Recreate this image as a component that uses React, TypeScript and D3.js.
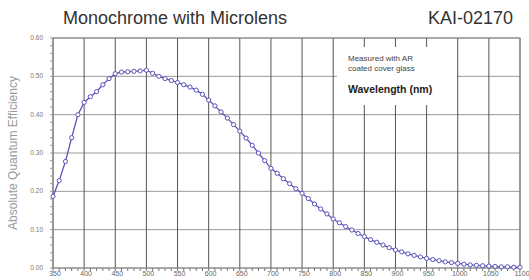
import * as d3 from 'd3'

// Quantum efficiency, one point every 10 nm
const wavelengths = d3.range(350, 1101, 10)
const efficiency = [
  0.187, 0.228, 0.278, 0.340, 0.400, 0.432, 0.447, 0.460, 0.478, 0.494,
  0.507, 0.511, 0.512, 0.513, 0.514, 0.516, 0.508, 0.500, 0.494, 0.489,
  0.484, 0.478, 0.472, 0.464, 0.453, 0.438, 0.423, 0.407, 0.391, 0.374,
  0.357, 0.339, 0.320, 0.300, 0.280, 0.260, 0.247, 0.233, 0.220, 0.207,
  0.195, 0.181, 0.167, 0.154, 0.141, 0.128, 0.118, 0.108, 0.099, 0.090,
  0.082, 0.074, 0.067, 0.060, 0.053, 0.047, 0.042, 0.037, 0.033, 0.029,
  0.025, 0.022, 0.019, 0.016, 0.014, 0.012, 0.010, 0.008, 0.007, 0.006,
  0.005, 0.004, 0.003, 0.003, 0.002, 0.002
]
const xTicks = d3.range(350, 1101, 50)
const yTicks = [0, 0.1, 0.2, 0.3, 0.4, 0.5, 0.6]
const noteLines = ['Measured with AR', 'coated cover glass']

const W = 529
const H = 280
const left = 53, right = 520, top = 38, bottom = 268

export default function App() {
  const x = d3.scaleLinear().domain([350, 1100]).range([left, right])
  const y = d3.scaleLinear().domain([0, 0.6]).range([bottom, top])
  const pts = wavelengths.map((w, i) => ({ w, v: efficiency[i] }))
  const line = d3.line<{ w: number; v: number }>().x(d => x(d.w)).y(d => y(d.v))
  const minorX = d3.range(350, 1101, 10)
  const minorY = d3.range(0, 0.601, 0.02)
  const font = 'Liberation Sans, Arial, sans-serif'

  return (
    <svg width={W} height={H} style={{ position: 'absolute', left: 0, top: 0 }} fontFamily={font}>
      <rect width={W} height={H} fill="#fff" />
      <text x={175} y={24} fontSize={18} textAnchor="middle" fill="#333">Monochrome with Microlens</text>
      <text x={513} y={24} fontSize={18} textAnchor="end" fill="#333">KAI-02170</text>

      {/* grid */}
      {yTicks.map(t => (
        <line key={'h' + t} x1={left} x2={right} y1={y(t)} y2={y(t)} stroke="#9a9a9a" strokeWidth={1} />
      ))}
      {xTicks.map(t => (
        <line key={'v' + t} x1={x(t)} x2={x(t)} y1={top} y2={bottom} stroke="#555" strokeWidth={1} />
      ))}
      <rect x={left} y={top} width={right - left} height={bottom - top} fill="none" stroke="#888" />

      {/* minor ticks */}
      {minorX.map(t => (
        <line key={'mx' + t} x1={x(t)} x2={x(t)} y1={bottom} y2={bottom + 3} stroke="#777" />
      ))}
      {minorY.map(t => (
        <line key={'my' + t} x1={left - 3} x2={left} y1={y(t)} y2={y(t)} stroke="#999" />
      ))}

      {/* tick labels */}
      {yTicks.map(t => (
        <text key={'yl' + t} x={43} y={y(t) + 2} fontSize={6.5} textAnchor="end" fill="#777">{t.toFixed(2)}</text>
      ))}
      {xTicks.map(t => (
        <text key={'xl' + t} x={x(t) + 2} y={276} fontSize={7} textAnchor="middle" fill="#666">{t}</text>
      ))}
      <text transform={`translate(17,${(top + bottom) / 2}) rotate(-90)`} fontSize={12} textAnchor="middle" fill="#999">Absolute Quantum Efficiency</text>

      {/* note box */}
      <rect x={337} y={47} width={120} height={58} fill="#fff" />
      {noteLines.map((s, i) => (
        <text key={s} x={348} y={61 + i * 10} fontSize={8} fill="#444">{s}</text>
      ))}
      <text x={348} y={93} fontSize={10.5} fontWeight="bold" fill="#222">Wavelength (nm)</text>

      {/* curve */}
      <path d={line(pts) || ''} fill="none" stroke="#5a54b8" strokeWidth={1.3} />
      {pts.map(p => (
        <circle key={p.w} cx={x(p.w)} cy={y(p.v)} r={2.1} fill="#fff" stroke="#5a54b8" strokeWidth={1} />
      ))}
    </svg>
  )
}
